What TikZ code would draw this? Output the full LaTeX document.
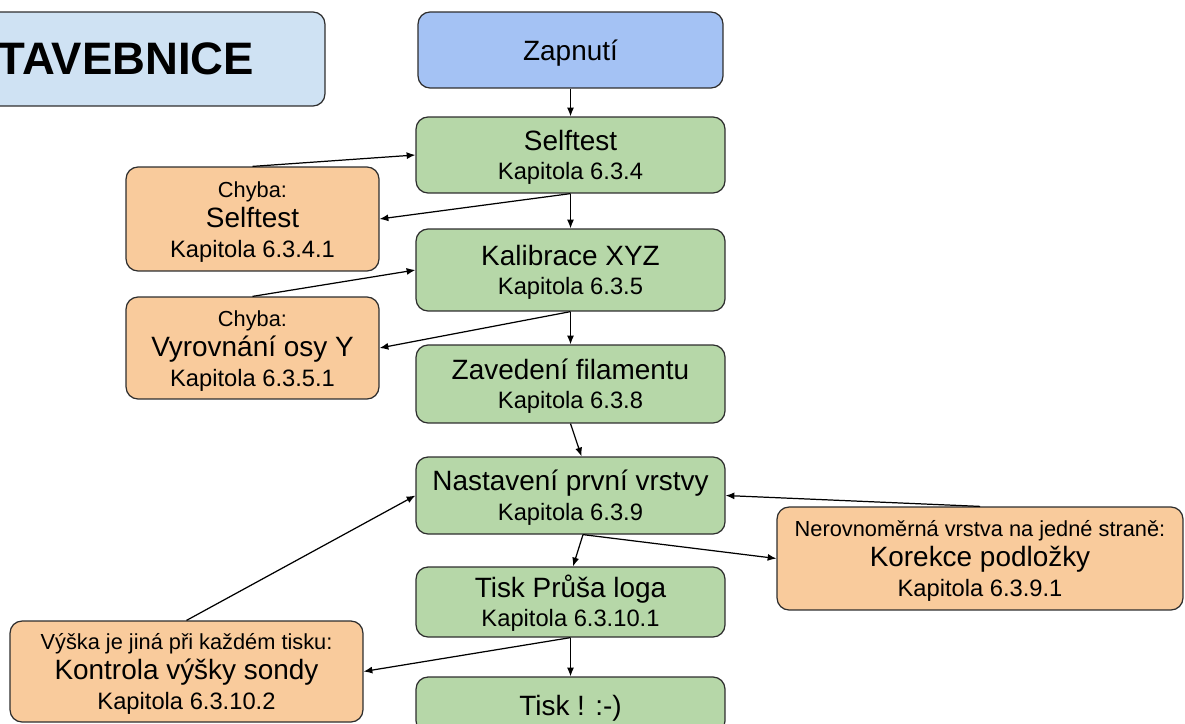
\documentclass[tikz,border=0pt]{standalone}
\usepackage{fontspec}
\setmainfont{Liberation Sans}
\usetikzlibrary{arrows.meta}
\definecolor{krok}{HTML}{B6D7A8}
\definecolor{chyba}{HTML}{F9CB9C}
\definecolor{start}{HTML}{A4C2F4}
\definecolor{nadpis}{HTML}{CFE2F3}
\definecolor{okraj}{HTML}{2E2E2E}
\newcommand{\velky}{\fontsize{15.9}{17}\selectfont}
\newcommand{\stredni}{\fontsize{13.5}{17}\selectfont}
\newcommand{\maly}{\fontsize{12.4}{17}\selectfont}

\begin{document}
\begin{tikzpicture}[x=0.02cm, y=-0.02cm,
    box/.style={draw=okraj, line width=0.7pt, rounded corners=0.24cm, align=center, inner sep=0pt,
                font=\stredni, text depth=0pt},
    krokbox/.style={box, fill=krok, minimum width=6.18cm, text height=28.4pt},
    chybabox/.style={box, fill=chyba, text height=43.5pt},
    sipka/.style={-{Latex[length=5pt,width=4pt]}, line width=0.7pt}]
  \useasboundingbox (0,0) rectangle (1185,723);
  \clip (0,0) rectangle (1185,723);

  % nadpis
  \node[box, fill=nadpis, minimum width=7.96cm, minimum height=1.88cm, text depth=,
        font=\fontsize{25.9}{28}\selectfont\bfseries] (titul) at (126,59) {TAVEBNICE};

  % hlavni postup
  \node[box, fill=start, minimum width=6.1cm, minimum height=1.52cm, text height=11.4pt] (zap) at (570.5,50) {\velky Zapnutí};
  \node[krokbox, minimum height=1.52cm] (self) at (570.5,155)   {{\velky Selftest}\\Kapitola 6.3.4};
  \node[krokbox, minimum height=1.64cm] (kal)  at (570.5,270)   {{\velky Kalibrace XYZ}\\Kapitola 6.3.5};
  \node[krokbox, minimum height=1.56cm] (zav)  at (570.5,384)   {{\velky Zavedení filamentu}\\Kapitola 6.3.8};
  \node[krokbox, minimum height=1.54cm] (nast) at (570.5,495.5) {{\velky Nastavení první vrstvy}\\Kapitola 6.3.9};
  \node[krokbox, minimum height=1.4cm]  (logo) at (570.5,602)   {{\velky Tisk Průša loga}\\Kapitola 6.3.10.1};
  \node[krokbox, minimum height=1.12cm, text height=11.4pt] (tisk) at (570.5,705) {\velky Tisk ! :-)};

  % chyby
  \node[chybabox, minimum width=5.06cm, minimum height=2.08cm] (chyba1) at (252.5,219)
    {{\maly Chyba:}\\{\velky Selftest}\\Kapitola 6.3.4.1};
  \node[chybabox, minimum width=5.06cm, minimum height=2.04cm] (chyba2) at (252.5,348)
    {{\maly Chyba:}\\{\velky Vyrovnání osy Y}\\Kapitola 6.3.5.1};
  \node[chybabox, minimum width=8.12cm, minimum height=2.06cm] (korekce) at (980,558.5)
    {{\maly Nerovnoměrná vrstva na jedné straně:}\\{\velky Korekce podložky}\\Kapitola 6.3.9.1};
  \node[chybabox, minimum width=7.06cm, minimum height=2.02cm] (kontrola) at (186.5,671.5)
    {{\maly Výška je jiná při každém tisku:}\\{\velky Kontrola výšky sondy}\\Kapitola 6.3.10.2};

  % sipky
  \draw[sipka] (zap.south) -- (self.north);
  \draw[sipka] (self.south) -- (chyba1.east);
  \draw[sipka] (chyba1.north) -- (self.west);
  \draw[sipka] (self.south) -- (kal.north);
  \draw[sipka] (kal.south) -- (chyba2.east);
  \draw[sipka] (chyba2.north) -- (kal.west);
  \draw[sipka] (kal.south) -- (zav.north);
  \draw[sipka] (zav.south) -- ([xshift=0.22cm]nast.north);
  \draw[sipka] ([xshift=0.25cm]nast.south) -- ([xshift=0.05cm]logo.north);
  \draw[sipka] ([xshift=0.25cm]nast.south) -- (korekce.west);
  \draw[sipka] (korekce.north) -- (nast.east);
  \draw[sipka] (kontrola.north) -- (nast.west);
  \draw[sipka] (logo.south) -- (kontrola.east);
  \draw[sipka] (logo.south) -- (tisk.north);
\end{tikzpicture}
\end{document}
